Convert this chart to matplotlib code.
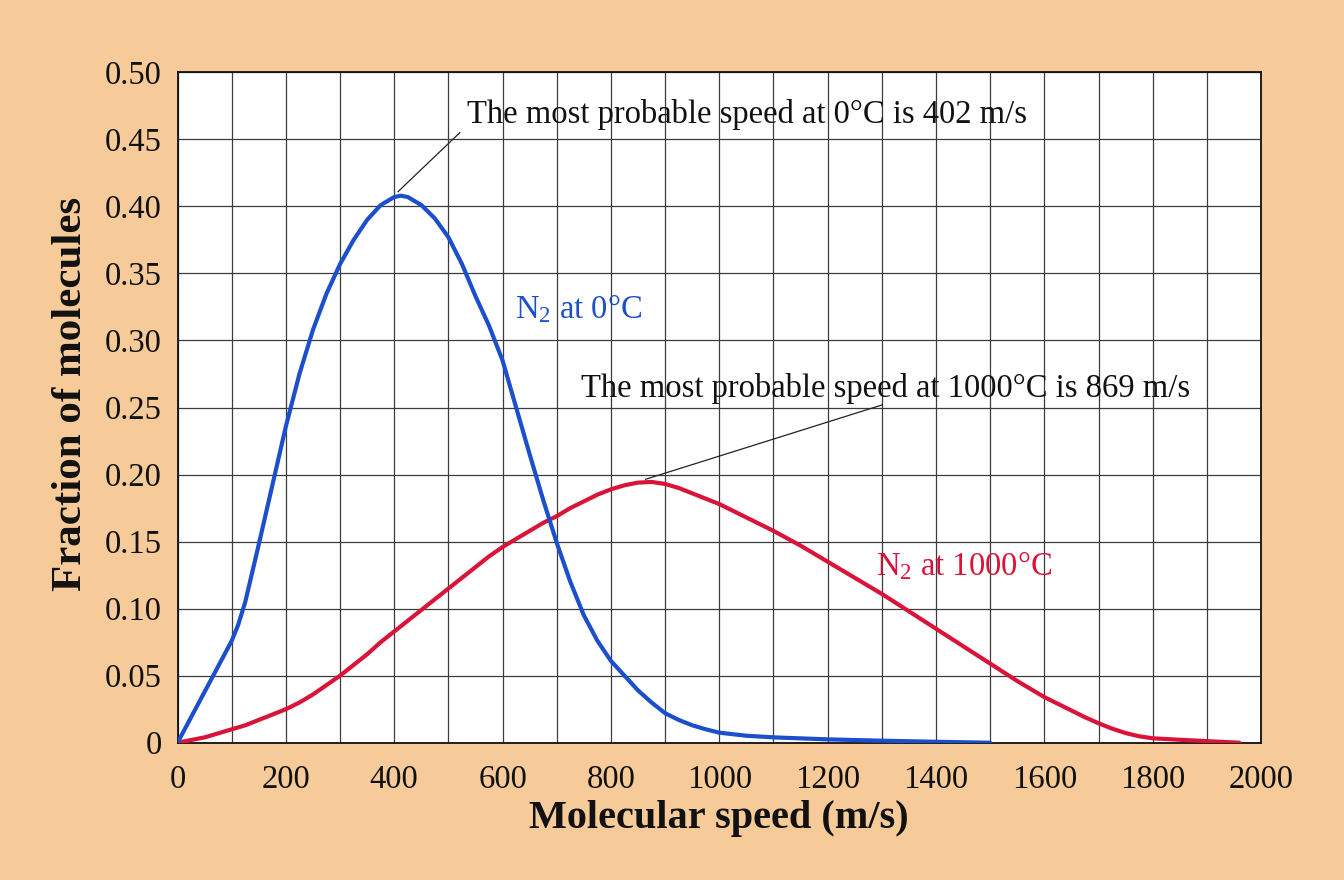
import matplotlib
matplotlib.use("Agg")
import matplotlib.pyplot as plt
from matplotlib.ticker import FixedLocator, MultipleLocator

# Molecular speed (m/s) and fraction of molecules for N2 at 0 °C
speed_0C = [0, 25, 50, 75, 100, 112, 125, 150, 175, 200, 225, 250, 275, 300,
            325, 350, 375, 400, 412, 425, 450, 475, 500, 525, 550, 575, 600,
            625, 650, 675, 700, 725, 750, 775, 800, 825, 850, 875, 900, 925,
            950, 975, 1000, 1050, 1100, 1200, 1300, 1400, 1500]
fraction_0C = [0.000, 0.019, 0.038, 0.057, 0.076, 0.088, 0.105, 0.148, 0.192,
               0.236, 0.275, 0.308, 0.335, 0.357, 0.375, 0.390, 0.401, 0.407,
               0.408, 0.407, 0.401, 0.391, 0.377, 0.357, 0.333, 0.311, 0.285,
               0.250, 0.215, 0.181, 0.149, 0.120, 0.095, 0.076, 0.061, 0.050,
               0.039, 0.030, 0.022, 0.017, 0.013, 0.010, 0.0075, 0.0052,
               0.004, 0.0025, 0.0015, 0.0007, 0.0]

# Molecular speed (m/s) and fraction of molecules for N2 at 1000 °C
speed_1000C = [0, 25, 50, 75, 100, 125, 150, 175, 200, 225, 250, 275, 300,
               325, 350, 375, 400, 425, 450, 475, 500, 525, 550, 575, 600,
               625, 650, 675, 700, 725, 750, 775, 800, 825, 850, 875, 900,
               925, 950, 975, 1000, 1050, 1100, 1150, 1200, 1250, 1300, 1350,
               1400, 1450, 1500, 1550, 1600, 1625, 1650, 1675, 1700, 1725,
               1750, 1775, 1800, 1850, 1900, 1960]
fraction_1000C = [0.000, 0.002, 0.004, 0.007, 0.010, 0.013, 0.017, 0.021,
                  0.025, 0.030, 0.036, 0.043, 0.050, 0.058, 0.066, 0.075,
                  0.083, 0.091, 0.099, 0.107, 0.115, 0.123, 0.131, 0.139,
                  0.146, 0.152, 0.158, 0.164, 0.169, 0.175, 0.180, 0.185,
                  0.189, 0.192, 0.194, 0.1945, 0.193, 0.190, 0.186, 0.182,
                  0.178, 0.168, 0.158, 0.147, 0.135, 0.123, 0.111, 0.098,
                  0.085, 0.072, 0.059, 0.046, 0.034, 0.029, 0.024, 0.019,
                  0.0145, 0.0105, 0.0072, 0.0048, 0.0033, 0.0022, 0.0012,
                  0.0]

x_ticks = [0, 200, 400, 600, 800, 1000, 1200, 1400, 1600, 1800, 2000]
y_ticks = [0, 0.05, 0.10, 0.15, 0.20, 0.25, 0.30, 0.35, 0.40, 0.45, 0.50]
y_tick_labels = ["0", "0.05", "0.10", "0.15", "0.20", "0.25", "0.30", "0.35",
                 "0.40", "0.45", "0.50"]

BG = "#F6CB99"
BLUE = "#1C4FCC"
RED = "#DA1438"
GRID = "#3c3c3c"

plt.rcParams["font.family"] = ["Liberation Serif", "DejaVu Serif"]
plt.rcParams["mathtext.fontset"] = "custom"
plt.rcParams["mathtext.rm"] = "Liberation Serif"
plt.rcParams["mathtext.it"] = "Liberation Serif:italic"
plt.rcParams["mathtext.bf"] = "Liberation Serif:bold"

fig = plt.figure(figsize=(13.44, 8.8), dpi=100, facecolor=BG)
ax = fig.add_axes([0.1321, 0.156, 0.8062, 0.7618])
ax.set_facecolor("white")

ax.set_xlim(0, 2000)
ax.set_ylim(0, 0.5)
ax.xaxis.set_major_locator(FixedLocator(x_ticks))
ax.set_xticklabels([str(t) for t in x_ticks])
ax.xaxis.set_minor_locator(MultipleLocator(100))
ax.yaxis.set_major_locator(FixedLocator(y_ticks))
ax.set_yticklabels(y_tick_labels)

ax.grid(which="both", color=GRID, linewidth=0.9)
ax.set_axisbelow(True)
ax.tick_params(which="both", length=0, labelsize=23.5, colors="#111111")
ax.tick_params(axis="x", pad=16)
ax.tick_params(axis="y", pad=11.5)
for side in ax.spines.values():
    side.set_color("#111111")
    side.set_linewidth(1.3)

ax.plot(speed_1000C, fraction_1000C, color=RED, linewidth=3.0,
        solid_capstyle="round", solid_joinstyle="round", zorder=3)
ax.plot(speed_0C, fraction_0C, color=BLUE, linewidth=3.0,
        solid_capstyle="round", solid_joinstyle="round", zorder=4)

# Leader lines and captions for the two most probable speeds
ax.plot([407, 521], [0.411, 0.455], color="#222222", linewidth=0.9, zorder=5)
ax.text(534, 0.462, "The most probable speed at 0°C is 402 m/s",
        fontsize=23.5, color="#111111", va="baseline", ha="left", zorder=6)

ax.plot([864, 1301], [0.1965, 0.252], color="#222222", linewidth=0.9, zorder=5)
ax.text(744, 0.258, "The most probable speed at 1000°C is 869 m/s",
        fontsize=23.5, color="#111111", va="baseline", ha="left", zorder=6)

# Curve labels
ax.text(623, 0.3167, r"N$_\mathregular{2}$ at 0°C", fontsize=23.5,
        color=BLUE, va="baseline", ha="left", zorder=6)
ax.text(1289, 0.125, r"N$_\mathregular{2}$ at 1000°C", fontsize=23.5,
        color=RED, va="baseline", ha="left", zorder=6)

ax.set_xlabel("Molecular speed (m/s)", fontsize=29, fontweight="bold",
              color="#111111")
ax.xaxis.set_label_coords(0.5, -0.086)
ax.set_ylabel("Fraction of molecules", fontsize=31, fontweight="bold",
              color="#111111")
ax.yaxis.set_label_coords(-0.081, 0.52)

fig.savefig("out.png", dpi=100, facecolor=BG)
